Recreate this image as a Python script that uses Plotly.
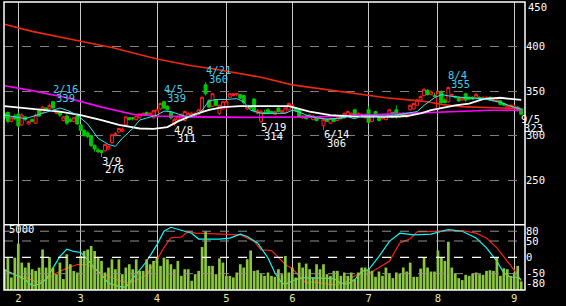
import plotly.graph_objects as go

# ---------------- data ----------------
# trading-day index 0..149 (2022-01-26 .. 2022-09-05)
day_idx = list(range(150))

opens = [325, 326, 316, 322, 324, 312, 321, 313, 318, 314,
         328, 326, 331, 330, 338, 325, 326, 317, 322, 318,
         316, 322, 312, 306, 303, 300, 289, 284, 283, 283,
         285, 292, 301, 304, 305, 312, 320, 320, 318, 320,
         323, 326, 324, 320, 321, 330, 338, 333, 326, 314,
         318, 320, 317, 322, 321, 322, 324, 328, 357, 339,
         333, 340, 325, 330, 332, 343, 345, 346, 346, 345,
         330, 333, 341, 325, 316, 326, 329, 327, 324, 331,
         326, 326, 329, 332, 331, 329, 320, 322, 321, 318,
         319, 320, 311, 318, 314, 319, 317, 322, 320, 322,
         321, 329, 322, 321, 320, 329, 316, 327, 320, 319,
         318, 322, 326, 329, 321, 325, 321, 329, 330, 334,
         340, 345, 351, 346, 345, 330, 349, 340, 338, 345,
         344, 343, 340, 347, 343, 343, 343, 343, 341, 341,
         343, 339, 338, 339, 336, 328, 333, 331, 332, 330]
highs = [327, 327, 321, 324, 326, 325, 322, 317, 319, 325,
         330, 333, 332, 336, 339, 328, 327, 322, 324, 320,
         321, 324, 313, 307, 305, 301, 290, 286, 284, 291,
         289, 302, 304, 309, 309, 322, 321, 321, 323, 325,
         326, 327, 326, 329, 330, 337, 339, 334, 327, 320,
         323, 325, 328, 326, 327, 326, 330, 344, 360, 341,
         348, 341, 335, 339, 340, 348, 348, 348, 347, 346,
         333, 334, 342, 330, 329, 329, 331, 328, 328, 332,
         329, 332, 337, 336, 332, 330, 323, 323, 324, 323,
         320, 322, 320, 320, 320, 320, 321, 324, 326, 328,
         326, 330, 326, 325, 325, 333, 324, 328, 321, 323,
         324, 330, 327, 334, 326, 326, 326, 335, 337, 341,
         345, 353, 352, 351, 348, 351, 351, 342, 355, 347,
         345, 344, 343, 348, 344, 344, 348, 344, 344, 344,
         344, 341, 341, 340, 337, 335, 335, 335, 333, 331]
lows = [318, 314, 315, 317, 309, 311, 316, 312, 315, 313,
        321, 325, 328, 329, 330, 324, 321, 316, 312, 315,
        315, 312, 305, 299, 297, 287, 282, 280, 276, 282,
        284, 291, 299, 303, 304, 311, 317, 317, 317, 319,
        322, 323, 322, 319, 320, 329, 330, 328, 318, 311,
        316, 319, 316, 320, 320, 321, 323, 327, 345, 331,
        332, 333, 323, 329, 329, 342, 344, 344, 341, 335,
        329, 330, 326, 324, 314, 324, 324, 325, 323, 326,
        325, 325, 328, 331, 327, 320, 319, 318, 320, 317,
        316, 319, 306, 315, 313, 315, 316, 318, 319, 321,
        320, 320, 321, 320, 319, 313, 315, 321, 316, 318,
        317, 321, 323, 319, 320, 321, 320, 328, 329, 333,
        339, 344, 345, 345, 343, 329, 335, 336, 337, 344,
        342, 338, 339, 338, 340, 340, 342, 340, 340, 340,
        339, 338, 337, 334, 333, 327, 332, 330, 327, 323]
closes = [320, 316, 320, 319, 311, 323, 318, 316, 316, 323,
          322, 332, 329, 334, 331, 327, 323, 321, 314, 316,
          320, 313, 306, 300, 299, 289, 285, 282, 281, 290,
          288, 301, 302, 308, 307, 321, 318, 319, 322, 324,
          325, 324, 325, 328, 329, 336, 331, 329, 320, 318,
          321, 324, 327, 325, 325, 325, 329, 343, 347, 332,
          347, 334, 334, 338, 338, 347, 347, 347, 342, 337,
          332, 331, 328, 328, 327, 325, 325, 326, 327, 327,
          328, 331, 336, 334, 328, 321, 322, 319, 323, 322,
          317, 321, 318, 316, 319, 316, 320, 319, 325, 327,
          325, 321, 325, 324, 323, 315, 322, 322, 317, 321,
          322, 329, 324, 322, 325, 322, 325, 334, 336, 340,
          344, 352, 346, 349, 344, 349, 337, 337, 354, 346,
          343, 339, 342, 340, 341, 341, 346, 341, 343, 343,
          340, 340, 340, 335, 334, 334, 334, 333, 328, 324]
volume = [1694, 2690, 1022, 2636, 3766, 2233, 1829, 2233, 1694, 1560,
          1829, 3309, 1829, 2690, 1829, 1291, 2233, 888, 2905, 2098,
          1560, 1426, 2771, 3174, 3309, 3578, 3174, 2636, 2367, 1426,
          1829, 2502, 1694, 2502, 1291, 1829, 2098, 1694, 2502, 1560,
          1560, 2502, 2098, 2367, 2636, 1964, 2636, 2502, 2098, 1694,
          2367, 1157, 1694, 1694, 753, 1291, 1560, 3497, 4788, 1964,
          1964, 1291, 2582, 2233, 1157, 1157, 1022, 1426, 2098, 1829,
          2502, 3228, 1560, 1614, 1291, 1157, 1426, 1157, 1076, 1694,
          1291, 2771, 1426, 1829, 1022, 2233, 1829, 2152, 1694, 1022,
          2098, 1694, 2098, 1291, 1157, 1560, 1560, 1157, 1426, 1157,
          1426, 888, 1426, 1829, 1829, 1694, 1560, 1076, 1506, 1157,
          1829, 1345, 968, 1426, 1345, 1829, 1506, 2233, 1076, 1076,
          1748, 2690, 1829, 1506, 1506, 3228, 2636, 2367, 3927, 1829,
          1345, 968, 807, 1237, 1157, 1345, 1426, 1291, 1237, 1560,
          1614, 1560, 2636, 1157, 1775, 1694, 1157, 1426, 1964, 699]

# moving-average lines (read at sample days)
ma_long_idx = [0, 8, 22, 31, 44, 54, 60, 74, 83, 95, 105, 110, 118, 122, 126, 132, 143, 149]
ma_long_val = [425, 417, 406, 399, 386, 378.5, 375, 365.5, 357, 350.5, 345.5, 342.5, 339.5, 338, 335, 332.5, 331, 330.5]
ma_mid_idx = [0, 8, 18, 28, 37, 44, 54, 70, 90, 100, 112, 120, 128, 140, 149]
ma_mid_val = [356, 350.5, 342.5, 332, 324, 322, 321, 320.5, 321, 322.5, 324.5, 325.5, 327.5, 328.5, 328.5]
ma_25_idx = [0, 8, 16, 22, 28, 33, 39, 43, 47, 50, 55, 59, 63, 68, 75, 82, 88, 94, 100,
             112, 116, 120, 123, 126, 130, 134, 138, 143, 147, 149]
ma_25_val = [333, 330, 327, 323, 317.5, 312, 308, 307.5, 309.5, 316, 324, 329, 332, 333, 333, 333, 327, 323, 321.5,
             321, 322, 325, 328.5, 331, 334, 336, 341, 342.5, 340.5, 340]
ma_5_idx = [0, 3, 6, 11, 14, 16, 18, 21, 24, 27, 30, 32, 34, 37, 39, 42, 44, 46, 48, 51,
            53, 55, 57, 59, 61, 64, 67, 69, 71, 74, 78, 81, 83, 85, 87, 90, 93, 96, 99, 101,
            103, 107, 110, 113, 116, 119, 121, 124, 126, 129, 133, 138, 143, 146, 149]
ma_5_val = [323, 321, 319, 325, 328.5, 331, 328.5, 323, 313, 297, 290, 288, 297, 308, 317.5, 321, 323, 327.5, 327, 323,
            321, 323, 328.5, 339, 340.5, 340.5, 341.5, 338, 328.5, 325, 325, 325, 328.5, 326.5, 323, 320, 318.5, 319.3, 321, 319,
            322, 322, 322, 323, 325, 327, 334, 342.5, 346, 344, 342.5, 341.5, 337.5, 333, 329.5]

# oscillator lines (lower panel)
osc_fast_idx = [0, 3, 6, 8, 10, 12, 14, 16, 18, 20, 22, 24, 26, 28, 30, 33, 35, 36, 38, 41,
                44, 46, 48, 51, 54, 56, 62, 65, 68, 70, 73, 76, 78, 80, 81, 84, 86, 89, 92, 95,
                97, 99, 101, 103, 105, 108, 111, 114, 118, 123, 126, 128, 132, 136, 139, 142, 144, 146, 148, 149]
osc_fast_val = [-38, -53, -68, -87, -82, -68, -33, 3, 25, 18, 15, -7, -33, -53, -79, -89, -92, -79, -53, -12,
                39, 80, 92, 82, 74, 56, 56, 59, 71, 64, 44, -2, -48, -79, -82, -68, -63, -63, -63, -65,
                -79, -82, -68, -43, -38, 3, 49, 74, 69, 71, 80, 85, 80, 59, 29, -12, -48, -61, -61, -68]
osc_slow_idx = [0, 3, 6, 9, 12, 15, 18, 21, 24, 27, 30, 33, 36, 38, 41, 44, 46, 48, 51, 53,
                55, 63, 68, 72, 74, 77, 79, 81, 83, 85, 87, 89, 93, 95, 98, 100, 102, 105, 108, 111,
                114, 117, 119, 125, 128, 132, 136, 139, 142, 145, 148, 149]
osc_slow_val = [-38, -55, -61, -75, -68, -48, -33, -22, -22, -43, -58, -71, -79, -71, -53, -7, 30, 60, 62, 80,
                74, 71, 69, 49, 23, 21, -2, -22, -35, -58, -79, -75, -81, -84, -79, -63, -51, -51, -31, -12,
                44, 57, 78, 80, 82, 82, 74, 59, 29, -12, -53, -73]

# labelled highs/lows
mark_idx = [14, 28, 46, 49, 58, 74, 92, 128, 149]
mark_date = ["2/16", "3/9", "4/5", "4/8", "4/21", "5/19", "6/14", "8/4", "9/5"]
mark_val = [339, 276, 339, 311, 360, 314, 306, 355, 323]
mark_kind = ["high", "low", "high", "low", "high", "low", "low", "high", "low"]

# axis ticks
month_idx = [4, 22, 44, 64, 83, 105, 125, 147]
month_lbl = ["2", "3", "4", "5", "6", "7", "8", "9"]
price_ticks = [250, 300, 350, 400]
price_top = 450
osc_ticks = [80, 50, 0, -50, -80]
osc_lbls = ["80", "50", "0", "-50", "-80"]
osc_grid = [80, 50, -50]
vol_label = 5000

# ---------------- figure ----------------
FONT = "DejaVu Sans Mono"
FS = 10.5
SPLIT = 66 / 291.0

fig = go.Figure()

fig.add_trace(go.Bar(x=day_idx, y=volume, yaxis="y3", marker=dict(color="#8CC63F", line=dict(width=0))))
fig.add_trace(go.Scatter(x=osc_slow_idx, y=osc_slow_val, yaxis="y2", mode="lines",
                         line=dict(color="#FF2010", width=1.2)))
fig.add_trace(go.Scatter(x=osc_fast_idx, y=osc_fast_val, yaxis="y2", mode="lines",
                         line=dict(color="#00FFFF", width=1.2)))

fig.add_trace(go.Scatter(x=ma_long_idx, y=ma_long_val, mode="lines", line=dict(color="#F02810", width=1.6)))
fig.add_trace(go.Scatter(x=ma_mid_idx, y=ma_mid_val, mode="lines", line=dict(color="#FF00FF", width=1.6)))
fig.add_trace(go.Scatter(x=ma_25_idx, y=ma_25_val, mode="lines", line=dict(color="#FFFFFF", width=1.8)))

fig.add_trace(go.Candlestick(
    x=day_idx, open=opens, high=highs, low=lows, close=closes, whiskerwidth=0,
    increasing=dict(line=dict(color="#FF2020", width=1), fillcolor="#000000"),
    decreasing=dict(line=dict(color="#00C800", width=1), fillcolor="#00C800"),
))
fig.add_trace(go.Scatter(x=ma_5_idx, y=ma_5_val, mode="lines", line=dict(color="#30E8F0", width=1)))

shapes = []
# lower-panel guide lines sit on top of the volume bars, as in the reference
for v in osc_grid:
    shapes.append(dict(type="line", xref="paper", x0=0, x1=1, yref="y2", y0=v, y1=v,
                       line=dict(color="#909090", width=1, dash="dash"), layer="above"))
shapes.append(dict(type="line", xref="paper", x0=0, x1=1, yref="y2", y0=0, y1=0,
                   line=dict(color="#FFFFFF", width=1.2, dash="dash"), layer="above"))
shapes.append(dict(type="rect", xref="paper", yref="paper", x0=0, x1=1, y0=0, y1=1,
                   line=dict(color="#FFFFFF", width=1.5)))
shapes.append(dict(type="line", xref="paper", yref="paper", x0=0, x1=1, y0=SPLIT, y1=SPLIT,
                   line=dict(color="#FFFFFF", width=1.5)))

annotations = [dict(text=str(vol_label), xref="paper", x=0.008, yref="y3", y=vol_label,
                    xanchor="left", yanchor="middle", showarrow=False, borderpad=0,
                    font=dict(family=FONT, size=FS, color="#FFFFFF")),
               dict(text=str(price_top), xref="paper", x=1, xshift=2, yref="y", y=price_top,
                    xanchor="left", yanchor="top", yshift=2, showarrow=False, borderpad=0,
                    font=dict(family=FONT, size=FS, color="#FFFFFF"))]
for i, d, v, k in zip(mark_idx, mark_date, mark_val, mark_kind):
    col = "#40D0F0" if k == "high" else "#FFFFFF"
    if k == "high":
        sd, sv = 12, 3
    else:
        sd, sv = -3.7, -12.5
    annotations.append(dict(text=d, x=i, y=v, xref="x", yref="y", xanchor="left", yanchor="middle",
                            xshift=-1, yshift=sd, showarrow=False, borderpad=0,
                            font=dict(family=FONT, size=FS, color=col)))
    annotations.append(dict(text=str(v), x=i, y=v, xref="x", yref="y", xanchor="left", yanchor="middle",
                            xshift=2, yshift=sv, showarrow=False, borderpad=0,
                            font=dict(family=FONT, size=FS, color=col)))

fig.update_layout(
    width=566, height=306,
    margin=dict(l=4, r=41, t=2, b=13, pad=0),
    paper_bgcolor="#000000", plot_bgcolor="#000000",
    showlegend=False, bargap=0.22, boxgap=0.15, boxgroupgap=0,
    shapes=shapes, annotations=annotations,
    xaxis=dict(domain=[0, 1], range=[-0.124, 150.1], anchor="y2", rangeslider=dict(visible=False),
               tickmode="array", tickvals=month_idx, ticktext=month_lbl, ticks="",
               showgrid=True, gridcolor="#C8C8C8", gridwidth=1, zeroline=False, showline=False,
               tickfont=dict(family=FONT, size=FS, color="#E8E8A0")),
    yaxis=dict(domain=[SPLIT, 1], range=[200, 450], side="right", anchor="x",
               tickmode="array", tickvals=price_ticks, ticks="", showgrid=True, gridcolor="#808080",
               griddash="dash", gridwidth=1, zeroline=False, showline=False, ticklabeloverflow="allow",
               tickfont=dict(family=FONT, size=FS, color="#FFFFFF")),
    yaxis2=dict(domain=[0, SPLIT], range=[-100, 100], side="right", anchor="x",
                tickmode="array", tickvals=osc_ticks, ticktext=osc_lbls, ticks="",
                showgrid=False, zeroline=False, showline=False, ticklabeloverflow="allow",
                tickfont=dict(family=FONT, size=FS, color="#FFFFFF")),
    yaxis3=dict(overlaying="y2", range=[0, 5323], visible=False),
)

fig.write_html("out.html")
